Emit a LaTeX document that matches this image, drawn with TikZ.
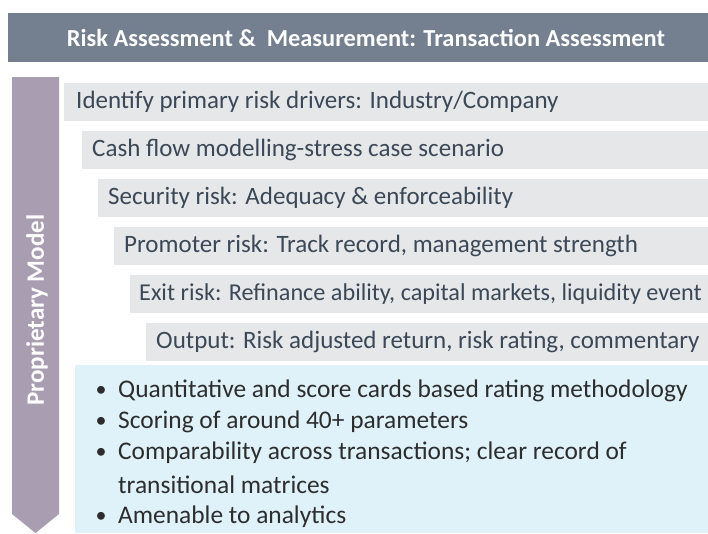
\documentclass[tikz,border=0pt]{standalone}
\usepackage{fontspec}
\setmainfont{Carlito}
\definecolor{hdr}{RGB}{116,127,143}
\definecolor{arr}{RGB}{168,157,177}
\definecolor{bar}{RGB}{230,231,232}
\definecolor{blu}{RGB}{223,241,249}
\definecolor{bartxt}{RGB}{58,72,88}
\definecolor{bultxt}{RGB}{45,45,45}
\tikzset{
  bartext/.style={anchor=west, text=bartxt, font=\fontsize{25}{28}\selectfont, inner sep=0pt},
  bultext/.style={anchor=west, text=bultxt, font=\fontsize{25.4}{28}\selectfont, inner sep=0pt},
  bulmark/.style={anchor=center, text=bultxt, font=\fontsize{22}{28}\selectfont, inner sep=0pt}
}
\begin{document}
\begin{tikzpicture}[x=1pt,y=-1pt]
\useasboundingbox (0,0) rectangle (708,533);
% header
\fill[hdr] (8,13) rectangle (708,62);
\node[text=white, font=\bfseries\fontsize{24.4}{28}\selectfont] (title) at (366,38) {Risk Assessment \&\ \ Measurement: Transaction Assessment};
% arrow
\fill[arr] (12,77) -- (59,77) -- (59,514) -- (35.5,533) -- (12,514) -- cycle;
\node[rotate=90, text=white, font=\bfseries\fontsize{25}{28}\selectfont] (pm) at (37,310) {Proprietary Model};
% bars
\fill[bar] (64,83) rectangle (708,121);
\fill[bar] (82,131) rectangle (708,169);
\fill[bar] (98,179) rectangle (708,217);
\fill[bar] (114,227) rectangle (708,265);
\fill[bar] (130,275) rectangle (708,313);
\fill[bar] (146,323) rectangle (708,361);
\node[bartext] (b1) at (76,102) {Identify primary risk drivers: Industry/Company};
\node[bartext] (b2) at (92,150) {Cash flow modelling-stress case scenario};
\node[bartext] (b3) at (108,198) {Security risk: Adequacy \& enforceability};
\node[bartext] (b4) at (124,246) {Promoter risk: Track record, management strength};
\node[bartext, font=\fontsize{24.2}{28}\selectfont] (b5) at (139,294) {Exit risk: Refinance ability, capital markets, liquidity event};
\node[bartext] (b6) at (156,342) {Output: Risk adjusted return, risk rating, commentary};
% blue box
\fill[blu] (75,365) rectangle (708,533);
\node[bulmark] (m1) at (101,391) {\textbullet};
\node[bultext] (t1) at (118,391) {Quantitative and score cards based rating methodology};
\node[bulmark] (m2) at (101,422) {\textbullet};
\node[bultext] (t2) at (118,422) {Scoring of around 40+ parameters};
\node[bulmark] (m3) at (101,453) {\textbullet};
\node[bultext] (t3) at (118,453) {Comparability across transactions; clear record of};
\node[bultext] (t3b) at (118,485) {transitional matrices};
\node[bulmark] (m4) at (101,517) {\textbullet};
\node[bultext] (t4) at (118,517) {Amenable to analytics};
\end{tikzpicture}
\end{document}
